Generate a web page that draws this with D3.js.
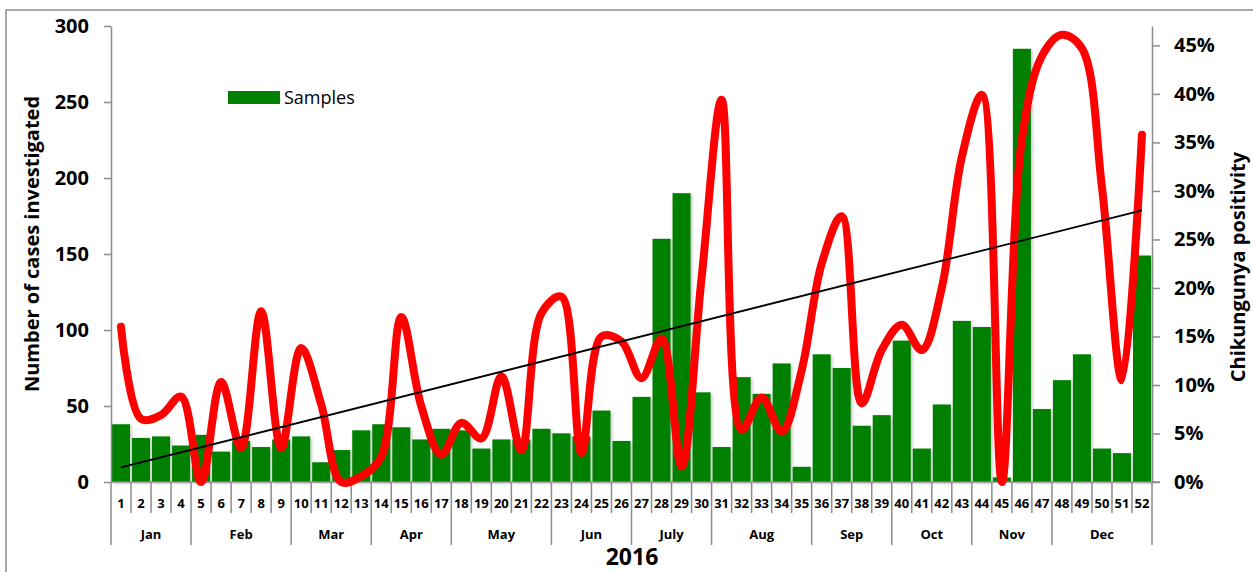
<!DOCTYPE html>
<html>
<head>
<script src="https://d3js.org/d3.v7.min.js"></script>
<style>
  body { margin: 0; background: #fff; }
  text { font-family: "Open Sans", "DejaVu Sans", sans-serif; }
</style>
</head>
<body>
<script>
// weekly data, 2016
var weeks = ["1","2","3","4","5","6","7","8","9","10","11","12","13","14","15","16","17","18","19","20",
             "21","22","23","24","25","26","27","28","29","30","31","32","33","34","35","36","37","38","39","40",
             "41","42","43","44","45","46","47","48","49","50","51","52"];

var samples = [38,29,30,24,31,20,27,23,28,30,
               13,21,34,38,36,28,35,34,22,28,
               28,35,32,30,47,27,56,160,190,59,
               23,69,58,78,10,84,75,37,44,93,
               22,51,106,102,3,285,48,67,84,22,
               19,149];

// percent positive
var positivity = [16.0,6.5,6.9,8.8,0,10.3,3.5,17.6,3.5,13.8,
                  8.0,0,0.6,2.6,17.0,7.8,2.8,6.1,4.5,10.9,
                  3.3,17.4,19.1,3.0,15.0,14.5,10.7,14.8,1.6,21.0,
                  39.4,5.4,8.7,5.2,11.5,22.5,27.4,8.1,13.6,16.2,
                  13.6,20.0,33.5,39.9,0,35.3,43.9,46.1,44.7,30.4,
                  10.5,35.8];

// linear trend of positivity, start and end (week 1, week 52)
var trendWeeks = ["1","52"];
var trendValues = [1.5, 28.0];

var months = ["Jan","Feb","Mar","Apr","May","Jun","July","Aug","Sep","Oct","Nov","Dec"];
var monthFirstWeek = ["1","5","10","14","18","23","27","31","36","40","44","48"];
var monthLastWeek  = ["4","9","13","17","22","26","30","35","39","43","47","52"];

var leftTicks = [0,50,100,150,200,250,300];
var rightTicks = [0,5,10,15,20,25,30,35,40,45];

var width = 1253, height = 572;
var x0 = 111, x1 = 1152, yTop = 26, yBase = 482;
var axisGray = "#8c8c8c";

var svg = d3.select("body").append("svg")
  .attr("width", width)
  .attr("height", height);

var defs = svg.append("defs");
var f = defs.append("filter").attr("id", "shadow")
  .attr("x", "-20%").attr("y", "-5%").attr("width", "150%").attr("height", "115%");
f.append("feDropShadow").attr("dx", 1.5).attr("dy", 1.5)
  .attr("stdDeviation", 1.5).attr("flood-color", "#000").attr("flood-opacity", 0.25);

// outer frame
svg.append("rect")
  .attr("x", 6).attr("y", 10)
  .attr("width", 1300).attr("height", 600)
  .attr("fill", "none").attr("stroke", axisGray).attr("stroke-width", 1.5);

var x = d3.scaleBand().domain(weeks).range([x0, x1]).paddingInner(0.1).paddingOuter(0.05);
var xStep = d3.scaleBand().domain(weeks).range([x0, x1]);
var yL = d3.scaleLinear().domain([0, 300]).range([yBase, yTop]);
var yR = d3.scaleLinear().domain([0, 47]).range([yBase, yTop]);

// bars
svg.append("g").selectAll("rect")
  .data(samples)
  .enter().append("rect")
  .attr("x", function(d, i) { return x(weeks[i]); })
  .attr("y", function(d) { return yL(d); })
  .attr("width", x.bandwidth())
  .attr("height", function(d) { return yBase - yL(d); })
  .attr("fill", "#008000")
  .attr("filter", "url(#shadow)");

// left axis
var gL = svg.append("g")
  .attr("transform", "translate(" + x0 + ",0)")
  .call(d3.axisLeft(yL).tickValues(leftTicks).tickSize(7).tickPadding(15).tickSizeOuter(0));
gL.select(".domain").attr("stroke", axisGray).attr("stroke-width", 1.5);
gL.selectAll(".tick line").attr("stroke", axisGray).attr("stroke-width", 1.5);
gL.selectAll(".tick text")
  .attr("font-size", 20).attr("font-weight", "bold").attr("fill", "#000")
  .attr("font-family", "Open Sans");

// right axis
var gR = svg.append("g")
  .attr("transform", "translate(" + x1 + ",0)")
  .call(d3.axisRight(yR).tickValues(rightTicks).tickSize(8).tickPadding(14).tickSizeOuter(0)
    .tickFormat(function(d) { return d + "%"; }));
gR.select(".domain").attr("stroke", axisGray).attr("stroke-width", 1.5);
gR.selectAll(".tick line").attr("stroke", axisGray).attr("stroke-width", 1.5);
gR.selectAll(".tick text")
  .attr("font-size", 20).attr("font-weight", "bold").attr("fill", "#000")
  .attr("font-family", "Open Sans");

// category axis: baseline, week separators, month separators
var gX = svg.append("g");
gX.append("line")
  .attr("x1", x0).attr("x2", x1 + 8).attr("y1", yBase).attr("y2", yBase)
  .attr("stroke", axisGray).attr("stroke-width", 1.5);

gX.selectAll(".wsep")
  .data(weeks)
  .enter().append("line")
  .attr("x1", function(d) { return xStep(d); })
  .attr("x2", function(d) { return xStep(d); })
  .attr("y1", yBase)
  .attr("y2", function(d) { return monthFirstWeek.indexOf(d) >= 0 ? 545 : 513; })
  .attr("stroke", axisGray).attr("stroke-width", 1.5);

gX.append("line")
  .attr("x1", x1).attr("x2", x1).attr("y1", yBase).attr("y2", 545)
  .attr("stroke", axisGray).attr("stroke-width", 1.5);

gX.selectAll(".wlab")
  .data(weeks)
  .enter().append("text")
  .attr("x", function(d) { return xStep(d) + xStep.bandwidth() / 2; })
  .attr("y", 508)
  .attr("text-anchor", "middle")
  .attr("font-size", 13).attr("font-weight", "bold")
  .text(function(d) { return d; });

gX.selectAll(".mlab")
  .data(months)
  .enter().append("text")
  .attr("x", function(d, i) {
    return (xStep(monthFirstWeek[i]) + xStep(monthLastWeek[i]) + xStep.bandwidth()) / 2;
  })
  .attr("y", 539)
  .attr("text-anchor", "middle")
  .attr("font-size", 13).attr("font-weight", "bold")
  .text(function(d) { return d; });

svg.append("text")
  .attr("x", 632).attr("y", 565)
  .attr("text-anchor", "middle")
  .attr("font-size", 23).attr("font-weight", "bold")
  .text("2016");

// axis titles
svg.append("text")
  .attr("transform", "translate(39,244) rotate(-90)")
  .attr("text-anchor", "middle")
  .attr("font-size", 20).attr("font-weight", "bold")
  .text("Number of cases investigated");

svg.append("text")
  .attr("transform", "translate(1245,267) rotate(-90)")
  .attr("text-anchor", "middle")
  .attr("font-size", 20).attr("font-weight", "bold")
  .text("Chikungunya positivity");

// positivity line
var line = d3.line()
  .x(function(d, i) { return xStep(weeks[i]) + xStep.bandwidth() / 2; })
  .y(function(d) { return yR(d); })
  .curve(d3.curveCatmullRom.alpha(0.5));

svg.append("path")
  .datum(positivity)
  .attr("d", line)
  .attr("fill", "none")
  .attr("stroke", "#ff0000")
  .attr("stroke-width", 8)
  .attr("stroke-linecap", "round")
  .attr("stroke-linejoin", "round");

// trend line
svg.append("line")
  .attr("x1", xStep(trendWeeks[0]) + xStep.bandwidth() / 2)
  .attr("x2", xStep(trendWeeks[1]) + xStep.bandwidth() / 2)
  .attr("y1", yR(trendValues[0]))
  .attr("y2", yR(trendValues[1]))
  .attr("stroke", "#000").attr("stroke-width", 1.8);

// legend
svg.append("rect")
  .attr("x", 228).attr("y", 91).attr("width", 52).attr("height", 13)
  .attr("fill", "#008000");
svg.append("text")
  .attr("x", 284).attr("y", 104)
  .attr("font-size", 18)
  .text("Samples");
</script>
</body>
</html>
